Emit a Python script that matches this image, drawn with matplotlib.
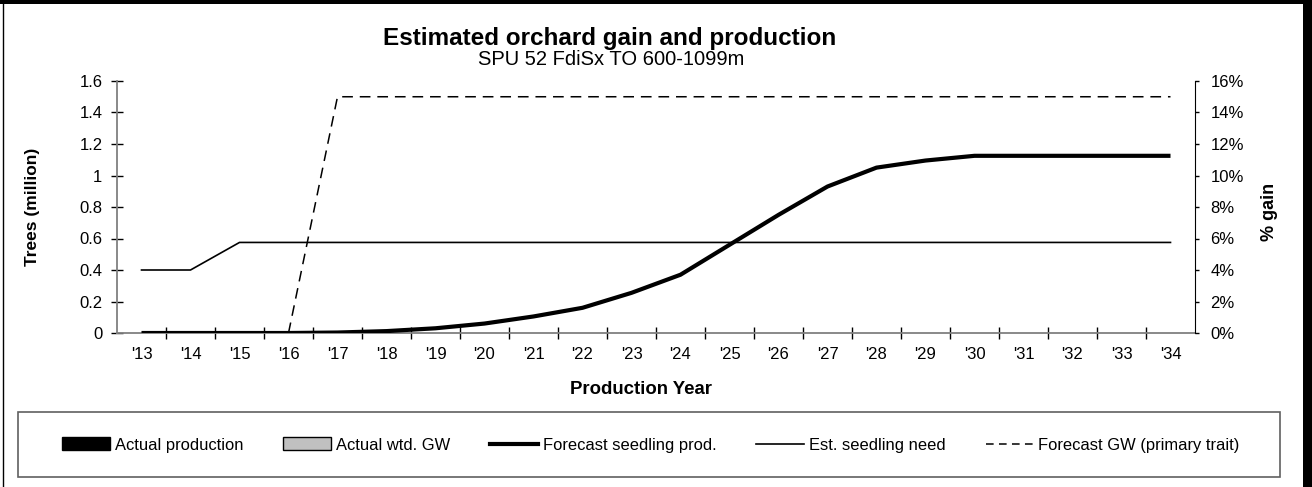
import numpy as np
import matplotlib
matplotlib.use("Agg")
import matplotlib.pyplot as plt
from matplotlib.patches import Rectangle, Patch
from matplotlib.lines import Line2D
from matplotlib.ticker import FuncFormatter

plt.rcParams['font.family'] = ['Liberation Sans', 'DejaVu Sans']

years = ["'13", "'14", "'15", "'16", "'17", "'18", "'19", "'20", "'21", "'22", "'23",
         "'24", "'25", "'26", "'27", "'28", "'29", "'30", "'31", "'32", "'33", "'34"]

# Trees (million)
forecast_prod = [0, 0, 0, 0, 0.003, 0.012, 0.03, 0.06, 0.105, 0.16, 0.255,
                 0.37, 0.56, 0.75, 0.93, 1.05, 1.095, 1.125, 1.125, 1.125, 1.125, 1.125]
seedling_need = [0.4, 0.4, 0.575, 0.575, 0.575, 0.575, 0.575, 0.575, 0.575, 0.575, 0.575,
                 0.575, 0.575, 0.575, 0.575, 0.575, 0.575, 0.575, 0.575, 0.575, 0.575, 0.575]
# % gain (fraction), starts at '16
forecast_gw = [np.nan, np.nan, np.nan, 0, 0.15, 0.15, 0.15, 0.15, 0.15, 0.15, 0.15,
               0.15, 0.15, 0.15, 0.15, 0.15, 0.15, 0.15, 0.15, 0.15, 0.15, 0.15]

W, H = 1312, 487
fig = plt.figure(figsize=(W / 100, H / 100), dpi=100)
ax = fig.add_axes([117 / W, 1 - 333 / H, (1195 - 117) / W, (333 - 81) / H])
ax2 = ax.twinx()

x = np.arange(len(years))

ax.plot(x, seedling_need, color="black", lw=1.2, zorder=3)
ax.plot(x, forecast_prod, color="black", lw=3.0, solid_capstyle="butt", zorder=4)
ax2.plot(x, forecast_gw, color="black", lw=1.1, dashes=(7, 4.5))

ax.set_xlim(-0.5, len(years) - 0.5)
ax.set_ylim(0, 1.6)
ax2.set_ylim(0, 0.16)

ax.set_yticks(np.arange(0, 1.61, 0.2))
ax.yaxis.set_major_formatter(FuncFormatter(lambda v, p: f"{v:g}" if v else "0"))
ax2.set_yticks(np.arange(0, 0.161, 0.02))
ax2.yaxis.set_major_formatter(FuncFormatter(lambda v, p: f"{v * 100:.0f}%"))

# boundary ticks, labels at centres
ax.set_xticks(np.arange(0.5, len(years) - 1, 1))
ax.set_xticklabels([])
ax.set_xticks(x, minor=True)
ax.set_xticklabels(years, minor=True)
ax.tick_params(axis="x", which="major", direction="inout", length=9, width=1, color="black")
ax.tick_params(axis="x", which="minor", length=0, pad=10, labelsize=12)
ax.tick_params(axis="y", direction="inout", length=9, width=1, pad=6, labelsize=12)
ax2.tick_params(axis="y", direction="out", length=3, width=1, pad=8, labelsize=12)

for s in ["top", "right"]:
    ax.spines[s].set_visible(False)
ax2.spines["top"].set_visible(False)
ax2.spines["left"].set_visible(False)
ax2.spines["bottom"].set_visible(False)
ax.spines["left"].set_color("#808080")
ax.spines["bottom"].set_color("#808080")
ax.spines["left"].set_linewidth(1.3)
ax.spines["bottom"].set_linewidth(1.3)
ax2.spines["right"].set_color("black")

fig.text(610 / W, 1 - 45 / H, "Estimated orchard gain and production", ha="center",
         va="baseline", fontsize=17.5, fontweight="bold")
fig.text(611 / W, 1 - 65 / H, "SPU 52 FdiSx TO 600-1099m", ha="center",
         va="baseline", fontsize=14.5)
fig.text(32 / W, 1 - 207 / H, "Trees (million)", rotation=90, ha="center", va="center",
         fontsize=12.5, fontweight="bold")
fig.text(1270 / W, 1 - 212 / H, "% gain", rotation=90, ha="center", va="center",
         fontsize=13, fontweight="bold")
fig.text(641 / W, 1 - 394 / H, "Production Year", ha="center", va="baseline",
         fontsize=13.4, fontweight="bold")

# legend box
fig.add_artist(Rectangle((18 / W, 1 - 477 / H), (1280 - 18) / W, (477 - 412) / H,
                         transform=fig.transFigure, fill=False, edgecolor="#606060", lw=1.2))
handles = [
    Patch(facecolor="black", edgecolor="black"),
    Patch(facecolor="#c0c0c0", edgecolor="black"),
    Line2D([], [], color="black", lw=3.0),
    Line2D([], [], color="black", lw=1.2),
    Line2D([], [], color="black", lw=1.1, dashes=(5, 3.5)),
]
labels = ["Actual production", "Actual wtd. GW", "Forecast seedling prod.",
          "Est. seedling need", "Forecast GW (primary trait)"]
fig.legend(handles, labels, loc="center", bbox_to_anchor=(651 / W, 1 - 445 / H),
           ncol=5, frameon=False, fontsize=11.9, handlelength=2.9, handleheight=0.8,
           handletextpad=0.3, columnspacing=2.4)

# outer frame
fig.add_artist(Line2D([3 / W, 3 / W], [0, 1], transform=fig.transFigure, color="black", lw=1))
fig.add_artist(Rectangle((0, 1 - 4 / H), 1, 4 / H, transform=fig.transFigure,
                         color="black", lw=0))
fig.add_artist(Rectangle((1303 / W, 0), 9 / W, 1, transform=fig.transFigure,
                         color="black", lw=0))

fig.savefig("out.png", dpi=100)
